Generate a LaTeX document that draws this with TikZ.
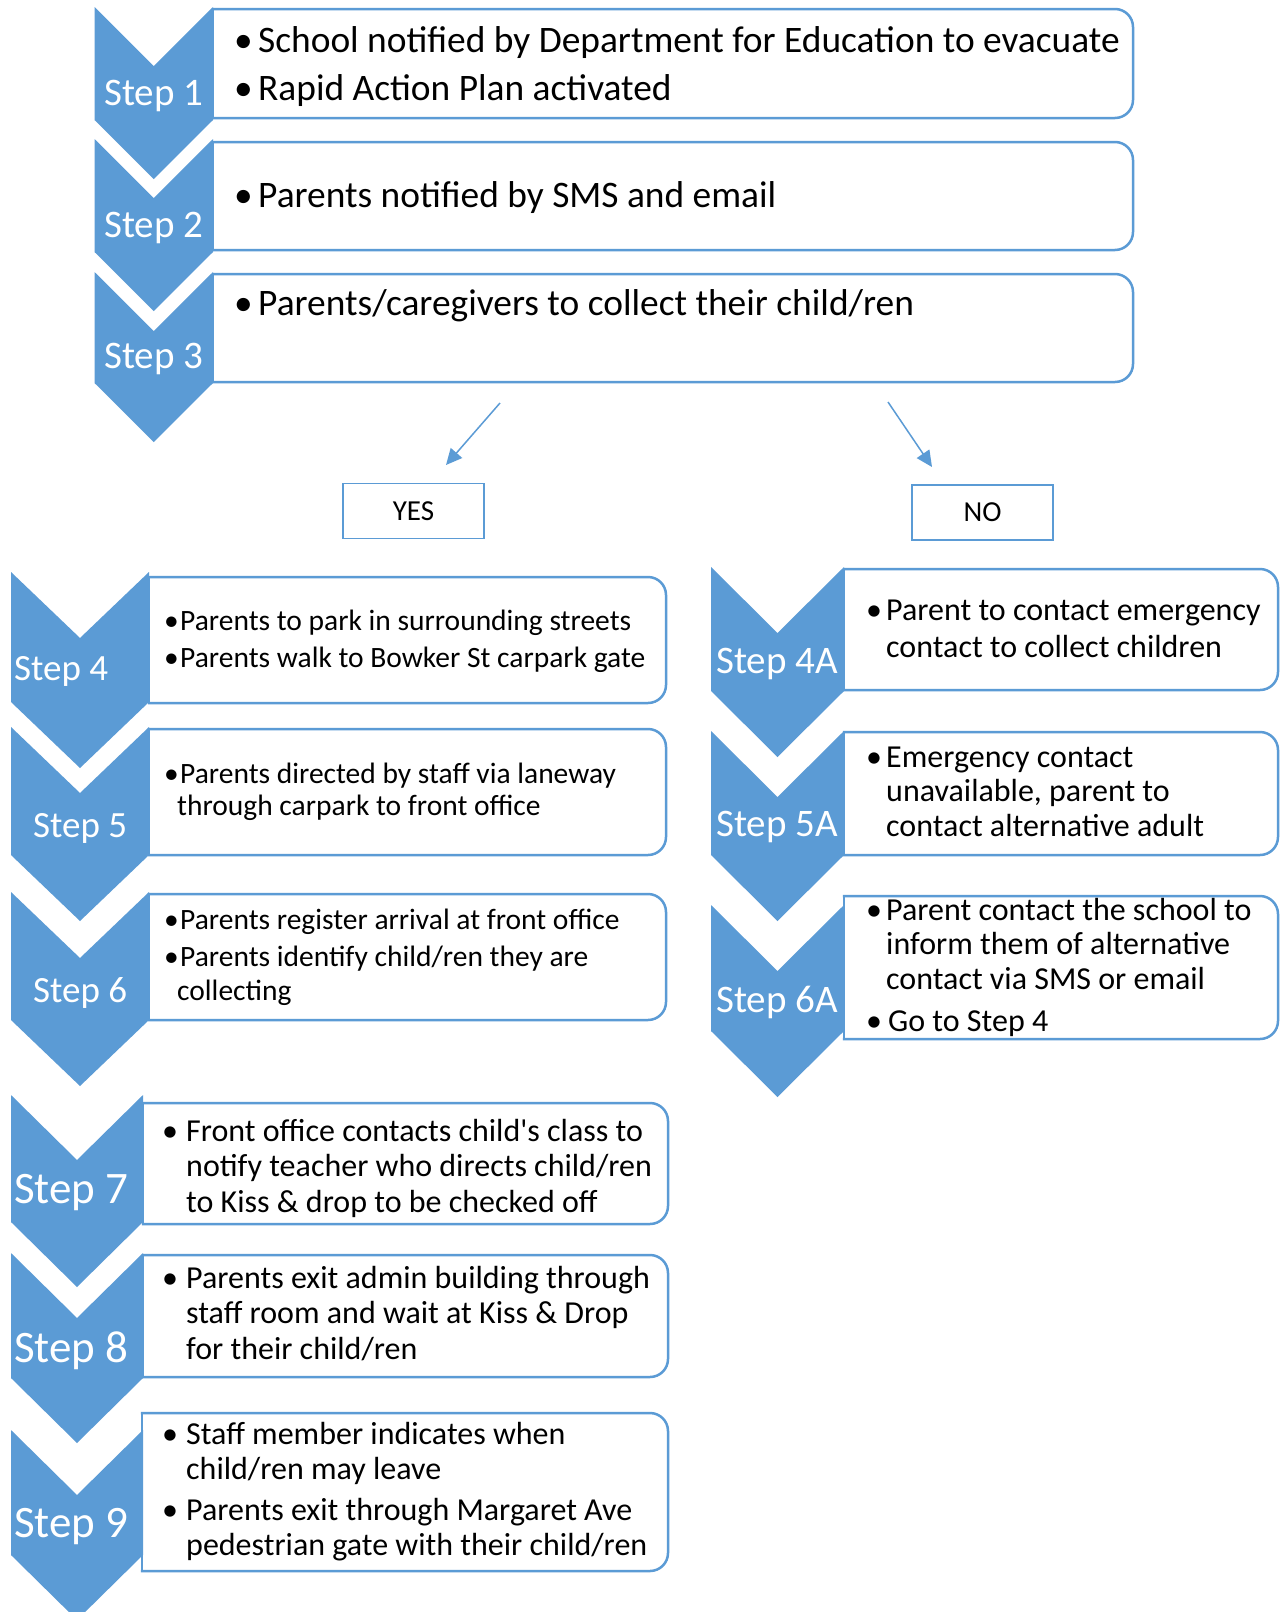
\documentclass[tikz,border=0pt]{standalone}
\usepackage{fontspec}
\setmainfont{Carlito}
\newfontfamily\plainapos{Carlito}[Ligatures=TeXOff]
\usetikzlibrary{arrows.meta}
\definecolor{sblue}{RGB}{91,155,213}
\tikzset{
 chev/.style={fill=sblue},
 boxline/.style={draw=sblue, line width=2.5pt, rounded corners=18pt},
 txt/.style={inner sep=0pt, anchor=base west, text=black},
 lbl/.style={inner sep=0pt, anchor=base west, text=white},
 yn/.style={draw=sblue, line width=1.5pt, minimum width=141pt, minimum height=55pt, inner sep=0pt, font=\fontsize{29}{35}\selectfont},
 arr/.style={draw=sblue, line width=1.5pt, -{Triangle[length=16pt,width=15pt]}},
}
\newcommand\bul[1]{\makebox[#1][l]{\hspace{-3pt}\textbullet}}
\newcommand\apos{{\plainapos '}}
\newcommand\mkchev[6]{%
  \pgfmathsetmacro\chcx{(#2+#3)/2}
  \fill[chev] (#2,#4) -- (\chcx,#4+#6) -- (#3,#4) -- (#3,#5) -- (\chcx,#5+#6) -- (#2,#5) -- cycle;
  \coordinate (#1) at (\chcx,#4);
}
\newcommand\mkbox[5]{%
  \node[inner sep=0pt, outer sep=0pt, minimum width={(#4-#2)*1pt}, minimum height={(#5-#3)*1pt}, anchor=north west, fill=white] (#1) at (#2,#3) {};
  \begin{scope}
    \clip ([xshift=-1.25pt,yshift=5pt]#1.north west) rectangle ([xshift=5pt,yshift=-5pt]#1.south east);
    \draw[boxline] ([xshift=-30pt]#1.north west) rectangle (#1.south east);
  \end{scope}
  \draw[sblue, line width=2.5pt] (#1.north west) -- (#1.south west);
}
\begin{document}
\begin{tikzpicture}[x=1pt,y=-1pt]
\fill[white] (0,0) rectangle (1284,1612);
\useasboundingbox (0,0) rectangle (1284,1612);

% boxes
\mkbox{b1}{213}{9}{1133}{118}
\mkbox{b2}{213}{142}{1133}{250}
\mkbox{b3}{213}{274}{1133}{382}
\mkbox{b4}{149}{577}{666}{703}
\mkbox{b5}{149}{729}{666}{855}
\mkbox{b6}{149}{894}{666}{1020}
\mkbox{b7}{143}{1103}{668}{1224}
\mkbox{b8}{143}{1255}{668}{1377}
\mkbox{b9}{142}{1413}{668}{1571}
\mkbox{b4A}{844}{569}{1278}{690}
\mkbox{b5A}{844}{732}{1278}{855}
\mkbox{b6A}{844}{896}{1278}{1039}

% chevrons
\mkchev{c1}{94.5}{213}{7}{120}{59}
\mkchev{c2}{94.5}{213}{139}{252}{59}
\mkchev{c3}{94.5}{213}{272}{383}{59}
\mkchev{c4}{11}{149}{572}{702}{66}
\mkchev{c5}{11}{149}{727}{855}{66}
\mkchev{c6}{11}{149}{892}{1020}{66}
\mkchev{c7}{11}{143}{1095}{1222}{65}
\mkchev{c8}{11}{143}{1253}{1378}{65}
\mkchev{c9}{11}{143}{1430}{1555}{65}
\mkchev{c4A}{711}{844}{567}{691}{66}
\mkchev{c5A}{711}{844}{731}{855}{66}
\mkchev{c6A}{711}{844}{905}{1031}{66}

% step labels
\node[lbl, font=\fontsize{39}{39}\selectfont] (s1) at (104,105) {Step 1};
\node[lbl, font=\fontsize{39}{39}\selectfont] (s2) at (104,237) {Step 2};
\node[lbl, font=\fontsize{39}{39}\selectfont] (s3) at (104,368) {Step 3};
\node[lbl, font=\fontsize{37}{37}\selectfont] (s4) at (14,680) {Step 4};
\node[lbl, font=\fontsize{37}{37}\selectfont] (s5) at (33,837) {Step 5};
\node[lbl, font=\fontsize{37}{37}\selectfont] (s6) at (33,1002) {Step 6};
\node[lbl, font=\fontsize{45}{45}\selectfont] (s7) at (14,1203) {Step 7};
\node[lbl, font=\fontsize{45}{45}\selectfont] (s8) at (14,1362) {Step 8};
\node[lbl, font=\fontsize{45}{45}\selectfont] (s9) at (14,1537) {Step 9};
\node[lbl, font=\fontsize{39}{39}\selectfont] (s4A) at (716,673) {Step 4A};
\node[lbl, font=\fontsize{39}{39}\selectfont] (s5A) at (716,836) {Step 5A};
\node[lbl, font=\fontsize{39}{39}\selectfont] (s6A) at (716,1012) {Step 6A};

% texts
\node[txt, font=\fontsize{37.4}{48}\selectfont] (t1) at (237,52) {\begin{tabular}[t]{@{}l@{}l@{}}
\bul{21pt} & School notified by Department for Education to evacuate\\
\bul{21pt} & Rapid Action Plan activated\end{tabular}};
\node[txt, font=\fontsize{37.4}{48}\selectfont] (t2) at (237,207) {\bul{21pt}Parents notified by SMS and email};
\node[txt, font=\fontsize{37.4}{48}\selectfont] (t3) at (237,315) {\bul{21pt}Parents/caregivers to collect their child/ren};

\node[txt, font=\fontsize{29.5}{37}\selectfont] (t4) at (167,630) {\begin{tabular}[t]{@{}l@{}l@{}}
\bul{13pt} & Parents to park in surrounding streets\\
\bul{13pt} & Parents walk to Bowker St carpark gate\end{tabular}};
\node[txt, font=\fontsize{29.5}{32}\selectfont] (t5) at (167,783) {\begin{tabular}[t]{@{}l@{}l@{}}
\bul{13pt} & Parents directed by staff via laneway\\
 & \hspace{-3pt}through carpark to front office\end{tabular}};
\node[txt, font=\fontsize{29.5}{34}\selectfont] (t6) at (167,929) {\begin{tabular}[t]{@{}l@{}l@{}}
\bul{13pt} & Parents register arrival at front office\\[3pt]
\bul{13pt} & Parents identify child/ren they are\\
 & \hspace{-3pt}collecting\end{tabular}};

\node[txt, font=\fontsize{32}{35.5}\selectfont] (t7) at (165,1141) {\begin{tabular}[t]{@{}l@{}l@{}}
\bul{21pt} & Front office contacts child\apos s class to\\
 & notify teacher who directs child/ren\\
 & to Kiss \& drop to be checked off\end{tabular}};
\node[txt, font=\fontsize{32}{35.5}\selectfont] (t8) at (165,1288) {\begin{tabular}[t]{@{}l@{}l@{}}
\bul{21pt} & Parents exit admin building through\\
 & staff room and wait at Kiss \& Drop\\
 & for their child/ren\end{tabular}};
\node[txt, font=\fontsize{32}{35}\selectfont] (t9) at (165,1444) {\begin{tabular}[t]{@{}l@{}l@{}}
\bul{21pt} & Staff member indicates when\\
 & child/ren may leave\\[6pt]
\bul{21pt} & Parents exit through Margaret Ave\\
 & pedestrian gate with their child/ren\end{tabular}};

\node[txt, font=\fontsize{32}{37}\selectfont] (t4A) at (869,620) {\begin{tabular}[t]{@{}l@{}l@{}}
\bul{17pt} & Parent to contact emergency\\
 & contact to collect children\end{tabular}};
\node[txt, font=\fontsize{32}{34.5}\selectfont] (t5A) at (869,767) {\begin{tabular}[t]{@{}l@{}l@{}}
\bul{17pt} & Emergency contact\\
 & unavailable, parent to\\
 & contact alternative adult\end{tabular}};
\node[txt, font=\fontsize{32}{34.5}\selectfont] (t6A) at (869,920) {\begin{tabular}[t]{@{}l@{}l@{}}
\bul{17pt} & Parent contact the school to\\
 & inform them of alternative\\
 & contact via SMS or email\\[7.5pt]
\bul{17pt} & \hspace{2pt}Go to Step 4\end{tabular}};

% yes / no
\node[yn] (yes) at (413.5,511) {YES};
\node[yn] (no) at (982.5,512.5) {NO};
\coordinate (a1s) at (500,403);
\coordinate (a1e) at (446,465);
\coordinate (a2s) at (888,402);
\coordinate (a2e) at (932,467);
\draw[arr] (a1s) -- (a1e);
\draw[arr] (a2s) -- (a2e);
\end{tikzpicture}
\end{document}
